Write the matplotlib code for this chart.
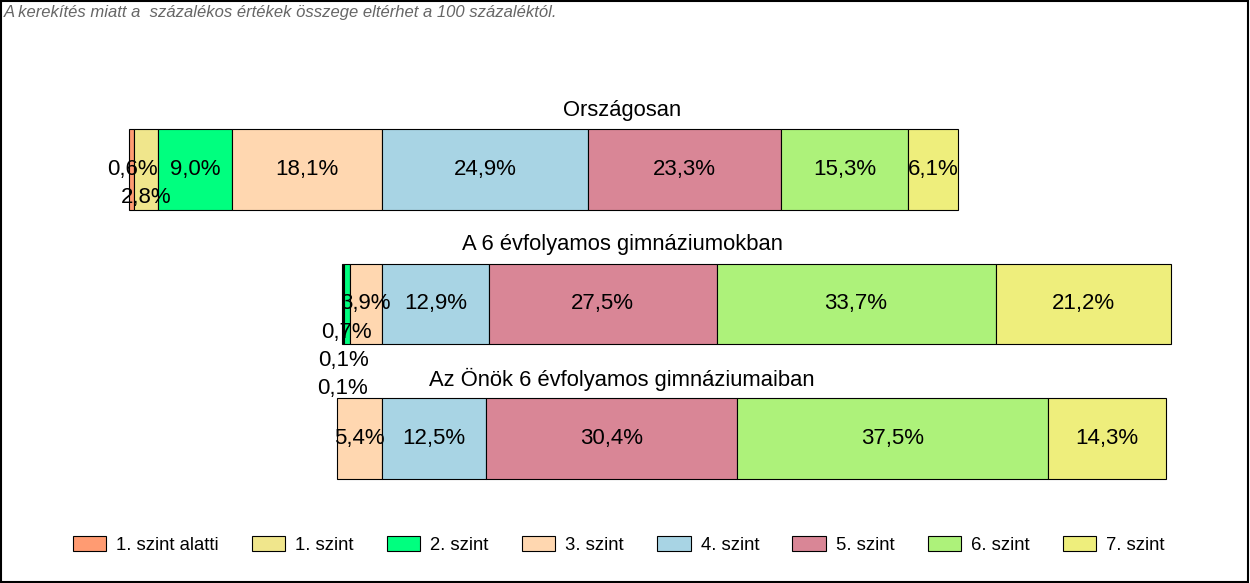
import matplotlib
matplotlib.use("Agg")
import matplotlib.pyplot as plt
from matplotlib.patches import Patch, Rectangle

plt.rcParams['font.family'] = ['Liberation Sans', 'DejaVu Sans']

# Adatok
levels = ['1. szint alatti', '1. szint', '2. szint', '3. szint',
          '4. szint', '5. szint', '6. szint', '7. szint']
groups = ['Országosan', 'A 6 évfolyamos gimnáziumokban', 'Az Önök 6 évfolyamos gimnáziumaiban']
orszagos = [0.6, 2.8, 9.0, 18.1, 24.9, 23.3, 15.3, 6.1]
gimn6 = [0.1, 0.1, 0.7, 3.9, 12.9, 27.5, 33.7, 21.2]
onok6 = [0.0, 0.0, 0.0, 5.4, 12.5, 30.4, 37.5, 14.3]
values = [orszagos, gimn6, onok6]

# label stacking (how many rows down a small label is pushed)
label_rows = [[0, 1, 0, 0, 0, 0, 0, 0],
              [3, 2, 1, 0, 0, 0, 0, 0],
              [0, 0, 0, 0, 0, 0, 0, 0]]

colors = ['#FF9B72', '#F0E68C', '#00FF7F', '#FFD7B0',
          '#A8D4E4', '#D98696', '#ADF27A', '#EEEE7C']

fig = plt.figure(figsize=(12.5, 5.83), dpi=100)
ax = fig.add_axes([0, 0, 1, 1])
px = 8.28  # pixel per percent
ax.set_xlim(-382 / px, (1250 - 382) / px)
ax.set_ylim((583 - 169.5) / 134.5, -169.5 / 134.5)
ax.axis('off')

for i, vals in enumerate(values):
    left = -sum(vals[:4])
    for j, v in enumerate(vals):
        if v > 0:
            ax.barh(i, v, left=left, height=0.602, color=colors[j],
                    edgecolor='black', linewidth=0.8)
            txt = f'{v:.1f}%'.replace('.', ',')
            ax.text(left + v / 2, i + 0.21 * label_rows[i][j], txt,
                    ha='center', va='center', fontsize=16)
        left += v
    ax.text(29.0, i - 0.442, groups[i], ha='center', va='center', fontsize=15.8)

fig.text(0.003, 0.978, 'A kerekítés miatt a  százalékos értékek összege eltérhet a 100 százaléktól.',
         fontsize=12, style='italic', color='#666666', ha='left', va='center')

handles = [Patch(facecolor=c, edgecolor='black', linewidth=0.8) for c in colors]
fig.legend(handles, levels, loc='center', bbox_to_anchor=(0.495, 0.065), ncol=8,
           frameon=False, fontsize=13.3, handlelength=1.8, handleheight=0.9,
           handletextpad=0.55, columnspacing=1.8)

fig.patches.append(Rectangle((0.0008, 0.002), 0.9976, 0.996, transform=fig.transFigure,
                             fill=False, edgecolor='black', linewidth=1.5))

fig.savefig('out.png', dpi=100)
